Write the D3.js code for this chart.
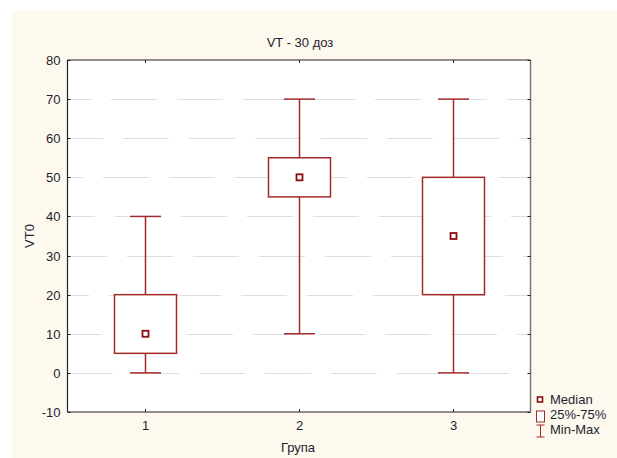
<!DOCTYPE html>
<html>
<head>
<meta charset="utf-8">
<script src="https://cdn.jsdelivr.net/npm/d3@7"></script>
<style>
  body { margin: 0; background: #fff; }
  text { font-family: "Liberation Sans Narrow", "Arial Narrow", "Liberation Sans", Arial, sans-serif; fill: #1e1e2e; }
</style>
</head>
<body>
<div id="chart"></div>
<script>
// data
let groups = ["1", "2", "3"];
let mins = [0, 10, 0];
let q1s = [5, 45, 20];
let medians = [10, 50, 35];
let q3s = [20, 55, 50];
let maxs = [40, 70, 70];
let yTicks = [-10, 0, 10, 20, 30, 40, 50, 60, 70, 80];
let legendLabels = ["Median", "25%-75%", "Min-Max"];

let width = 617, height = 458;
let plot = {left: 67.5, right: 530.5, top: 60, bottom: 412};
let red = "#a3292b";

let svg = d3.select("#chart")
    .append("svg")
    .attr("width", width)
    .attr("height", height);

// cream background panel
svg.append("rect")
    .attr("x", 12).attr("y", 10)
    .attr("width", width - 12).attr("height", height - 10)
    .attr("fill", "#fdf9ee");

svg.append("rect")
    .attr("x", plot.left).attr("y", plot.top)
    .attr("width", plot.right - plot.left).attr("height", plot.bottom - plot.top)
    .attr("fill", "#fff");

let x = d3.scaleLinear().domain([0.5, 3.5]).range([plot.left, plot.right]);
let y = d3.scaleLinear().domain([-10, 80]).range([plot.bottom, plot.top]);

// broken dotted grid lines
let offsets = [0, 12, 24, 6, 18, 30, 10, 22];
let dots = d3.range(22).map(() => "1,1").join(",") + ",1,21";
svg.append("g")
    .selectAll("line")
    .data(yTicks.filter(d => d >= 0 && d < 80))
    .enter()
    .append("line")
    .attr("x1", plot.left).attr("x2", plot.right)
    .attr("y1", d => Math.round(y(d)) + 0.5)
    .attr("y2", d => Math.round(y(d)) + 0.5)
    .attr("stroke", "#bdbdbd")
    .attr("stroke-width", 1)
    .attr("stroke-dasharray", dots)
    .attr("stroke-dashoffset", (d, i) => offsets[i % offsets.length]);

let boxW = 31, capW = 15.5;
let g = svg.append("g");

groups.forEach(function (grp, i) {
    let cx = Math.round(x(i + 1)) + 0.5;
    // whiskers
    g.append("line")
        .attr("x1", cx).attr("x2", cx)
        .attr("y1", y(maxs[i])).attr("y2", y(q3s[i]))
        .attr("stroke", red).attr("stroke-width", 1.5);
    g.append("line")
        .attr("x1", cx).attr("x2", cx)
        .attr("y1", y(q1s[i])).attr("y2", y(mins[i]))
        .attr("stroke", red).attr("stroke-width", 1.5);
    // caps
    [mins[i], maxs[i]].forEach(function (v) {
        g.append("line")
            .attr("x1", cx - capW).attr("x2", cx + capW)
            .attr("y1", y(v)).attr("y2", y(v))
            .attr("stroke", red).attr("stroke-width", 1.5);
    });
    // box
    g.append("rect")
        .attr("x", cx - boxW).attr("y", y(q3s[i]))
        .attr("width", boxW * 2).attr("height", y(q1s[i]) - y(q3s[i]))
        .attr("fill", "#fff")
        .attr("stroke", red).attr("stroke-width", 1.5);
    // median
    g.append("rect")
        .attr("x", cx - 3).attr("y", y(medians[i]) - 3)
        .attr("width", 6).attr("height", 6)
        .attr("fill", "#fff")
        .attr("stroke", "#8b0f12").attr("stroke-width", 1.8);
});

// frame
svg.append("line").attr("x1", plot.left).attr("x2", plot.right).attr("y1", plot.top).attr("y2", plot.top)
    .attr("stroke", "#222").attr("stroke-width", 1.2);
svg.append("line").attr("x1", plot.left).attr("x2", plot.left).attr("y1", plot.top).attr("y2", plot.bottom)
    .attr("stroke", "#222").attr("stroke-width", 1.2);
svg.append("line").attr("x1", plot.right).attr("x2", plot.right).attr("y1", plot.top).attr("y2", plot.bottom)
    .attr("stroke", "#777").attr("stroke-width", 1.5);
svg.append("line").attr("x1", plot.left).attr("x2", plot.right).attr("y1", plot.bottom).attr("y2", plot.bottom)
    .attr("stroke", "#666").attr("stroke-width", 1.5);

// y axis ticks and labels
let yAxis = svg.append("g");
yTicks.forEach(function (t) {
    let yy = Math.round(y(t)) + 0.5;
    yAxis.append("line").attr("x1", plot.left).attr("x2", plot.left + 3).attr("y1", yy).attr("y2", yy)
        .attr("stroke", "#222");
    yAxis.append("line").attr("x1", plot.right - 3).attr("x2", plot.right).attr("y1", yy).attr("y2", yy)
        .attr("stroke", "#222");
    yAxis.append("text")
        .attr("x", plot.left - 7).attr("y", yy + 4.5)
        .attr("text-anchor", "end")
        .attr("font-size", "13px")
        .text(t);
});

// x axis ticks and labels
groups.forEach(function (grp, i) {
    let cx = Math.round(x(i + 1)) + 0.5;
    svg.append("line").attr("x1", cx).attr("x2", cx).attr("y1", plot.top).attr("y2", plot.top + 3)
        .attr("stroke", "#222");
    svg.append("line").attr("x1", cx).attr("x2", cx).attr("y1", plot.bottom - 3).attr("y2", plot.bottom)
        .attr("stroke", "#222");
    svg.append("text")
        .attr("x", cx).attr("y", 430)
        .attr("text-anchor", "middle")
        .attr("font-size", "13px")
        .text(grp);
});

// titles
svg.append("text")
    .attr("x", 300).attr("y", 47)
    .attr("text-anchor", "middle")
    .attr("font-size", "13px")
    .text("VT - 30 доз");

svg.append("text")
    .attr("x", 298).attr("y", 452)
    .attr("text-anchor", "middle")
    .attr("font-size", "13px")
    .text("Група");

svg.append("text")
    .attr("transform", "translate(34," + (plot.top + plot.bottom) / 2 + ") rotate(-90)")
    .attr("text-anchor", "middle")
    .attr("font-size", "13px")
    .text("VT0");

// legend
let lg = svg.append("g").attr("transform", "translate(536,0)");
lg.append("rect").attr("x", 1.5).attr("y", 397).attr("width", 5).attr("height", 5)
    .attr("fill", "#fff").attr("stroke", "#8b0f12").attr("stroke-width", 1.6);
lg.append("rect").attr("x", 0.5).attr("y", 411).attr("width", 8).attr("height", 11)
    .attr("fill", "#fff").attr("stroke", red).attr("stroke-width", 1);
lg.append("line").attr("x1", 4.5).attr("x2", 4.5).attr("y1", 425).attr("y2", 437).attr("stroke", red);
lg.append("line").attr("x1", 0.5).attr("x2", 8.5).attr("y1", 425).attr("y2", 425).attr("stroke", red);
lg.append("line").attr("x1", 0.5).attr("x2", 8.5).attr("y1", 437).attr("y2", 437).attr("stroke", red);
legendLabels.forEach(function (l, i) {
    lg.append("text")
        .attr("x", 14).attr("y", 404 + i * 15)
        .attr("font-size", "13px")
        .text(l);
});
</script>
</body>
</html>
